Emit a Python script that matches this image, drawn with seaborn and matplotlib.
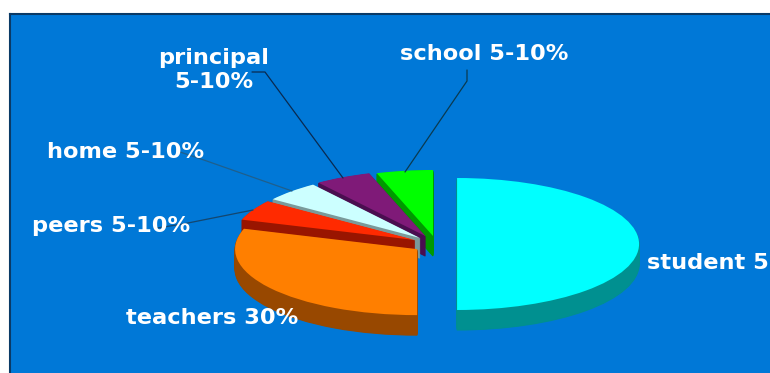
import matplotlib
matplotlib.use("Agg")
import matplotlib.pyplot as plt
from matplotlib.lines import Line2D
import seaborn as sns

# Shares of the pie, clockwise from twelve o'clock
categories = ["student", "teachers", "peers", "home", "principal", "school"]
shares = [50, 30, 5, 5, 5, 5]
share_labels = ["student 50%", "teachers 30%", "peers 5-10%", "home 5-10%", "principal\n5-10%", "school 5-10%"]

top_colors = ["#00FFFF", "#FF7F00", "#FF2A00", "#CCFFFF", "#7F1A78", "#00FF00"]
side_colors = ["#009090", "#984800", "#991500", "#7A9A9A", "#4A0E50", "#009900"]
explode = [0.113, 0.132, 0.133, 0.128, 0.135, 0.123]
# Back-to-front stacking rank of each slice
stack_rank = [5, 4, 3, 2, 1, 0]

W, H = 770, 373
RX, RY = 182.0, 66.0      # pie radii on screen, pixels
CX, CY = 436.5, 244.0     # pie centre on screen, pixels
DEPTH = 20                # height of the extruded rim, pixels

sns.set_theme(style="white")
plt.rcParams["font.family"] = ["DejaVu Sans"]

fig = plt.figure(figsize=(W / 100, H / 100), dpi=100, facecolor="white")
# The panel runs past the right and bottom edges of the canvas
ax = fig.add_axes([10 / W, -10 / H, 800 / W, (H - 14 + 10) / H])


def draw_layer(offset, colors, level, rim):
    wedges, _ = ax.pie(
        shares, explode=explode, colors=colors, startangle=90, counterclock=False,
        radius=1.0, center=(0, -offset / RY), frame=True,
    )
    for wedge, rank in zip(wedges, stack_rank):
        wedge.set_zorder(rank * 100 + level)
        # A same-colour outline closes the gaps between rim layers at the narrow tips
        wedge.set_edgecolor(wedge.get_facecolor() if rim else "none")
        wedge.set_linewidth(0.8 if rim else 0)


for step in range(DEPTH, 0, -1):
    draw_layer(step, side_colors, DEPTH - step, True)
draw_layer(0, top_colors, DEPTH + 1, False)

# Scale the unit pie into an ellipse positioned on the panel
ax.set_aspect("auto")
ax.set_xlim((10 - CX) / RX, (810 - CX) / RX)
ax.set_ylim((CY - 383) / RY, (CY - 14) / RY)
ax.set_xticks([])
ax.set_yticks([])
ax.set_facecolor("#0078D7")
ax.set_frame_on(True)
for spine in ax.spines.values():
    spine.set_color("#0A3A66")
    spine.set_linewidth(1.5)


def fx(x):
    return x / W


def fy(y):
    return 1 - y / H


# Leader lines from labels to slices
leaders = [
    ([157, 183, 253], [228, 224, 210], "#14466E"),
    ([180, 201, 292], [152, 159, 191], "#1F5F8C"),
    ([252, 265, 343], [72, 72, 178], "#0A2A50"),
    ([467, 467, 405], [70, 81, 172], "#0A3A50"),
]
for xs, ys, color in leaders:
    fig.add_artist(Line2D([fx(x) for x in xs], [fy(y) for y in ys], color=color,
                          lw=0.9, transform=fig.transFigure, zorder=2000))

# Slice labels
label_anchor = [(647, 263), (126, 318), (32, 226), (47, 152), (214, 70), (400, 54)]
label_align = ["left", "left", "left", "left", "center", "left"]
for text, (x, y), ha in zip(share_labels, label_anchor, label_align):
    fig.text(fx(x), fy(y), text, color="white", fontsize=16.2, fontweight="bold",
             ha=ha, va="center", linespacing=1.3, zorder=3000, multialignment="center")

fig.savefig("out.png", dpi=100, facecolor="white")
